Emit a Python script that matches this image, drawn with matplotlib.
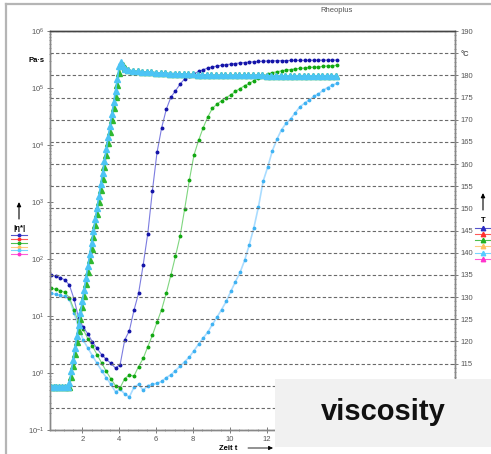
import matplotlib
matplotlib.use("Agg")
import matplotlib.pyplot as plt
from matplotlib.lines import Line2D
from matplotlib.patches import Rectangle, FancyArrowPatch
from matplotlib.ticker import MultipleLocator, LogLocator, NullFormatter

plt.rcParams["font.family"] = ["Liberation Sans", "DejaVu Sans"]

# measurement times for viscosity (min)
t_visc = [0.30, 0.55, 0.80, 1.05, 1.30,
          1.55, 1.80, 2.05, 2.30, 2.55,
          2.80, 3.05, 3.30, 3.55, 3.80,
          4.05, 4.30, 4.55, 4.80, 5.05,
          5.30, 5.55, 5.80, 6.05, 6.30,
          6.55, 6.80, 7.05, 7.30, 7.55,
          7.80, 8.05, 8.30, 8.55, 8.80,
          9.05, 9.30, 9.55, 9.80, 10.05,
          10.30, 10.55, 10.80, 11.05, 11.30,
          11.55, 11.80, 12.05, 12.30, 12.55,
          12.80, 13.05, 13.30, 13.55, 13.80,
          14.05, 14.30, 14.55, 14.80, 15.05,
          15.30, 15.55, 15.80]

# |eta*| in Pa*s
eta_blue = [52, 50, 47, 43, 35,
            20, 9.3, 6.3, 4.9, 3.5,
            2.7, 2.1, 1.74, 1.48, 1.22,
            1.4, 3.8, 5.5, 12.6, 25,
            79, 280, 1580, 7400, 2.0e4,
            4.2e4, 6.9e4, 8.9e4, 1.17e5, 1.45e5,
            1.62e5, 1.78e5, 1.95e5, 2.09e5, 2.24e5,
            2.34e5, 2.43e5, 2.51e5, 2.57e5, 2.63e5,
            2.69e5, 2.75e5, 2.80e5, 2.85e5, 2.88e5,
            2.92e5, 2.95e5, 2.98e5, 3.00e5, 3.01e5,
            3.02e5, 3.03e5, 3.04e5, 3.05e5, 3.06e5,
            3.06e5, 3.07e5, 3.07e5, 3.08e5, 3.08e5,
            3.09e5, 3.09e5, 3.10e5]

eta_green = [31, 29.5, 28, 26, 21,
             13, 7.6, 5.8, 4.0, 2.95,
             2.1, 1.5, 1.07, 0.79, 0.60,
             0.55, 0.80, 0.92, 0.88, 1.3,
             1.8, 2.9, 4.6, 7.8, 13,
             25, 52, 112, 250, 760,
             2400, 6600, 1.2e4, 2.0e4, 3.1e4,
             4.4e4, 5.2e4, 6.0e4, 6.8e4, 7.6e4,
             8.7e4, 9.8e4, 1.10e5, 1.20e5, 1.35e5,
             1.51e5, 1.62e5, 1.76e5, 1.86e5, 1.93e5,
             2.00e5, 2.07e5, 2.11e5, 2.16e5, 2.21e5,
             2.24e5, 2.29e5, 2.32e5, 2.34e5, 2.40e5,
             2.43e5, 2.45e5, 2.51e5]

eta_cyan = [25, 24, 23, 22, 20,
            11.5, 6.3, 3.8, 2.75, 2.0,
            1.48, 1.10, 0.83, 0.63, 0.47,
            0.52, 0.43, 0.38, 0.56, 0.63,
            0.50, 0.60, 0.63, 0.66, 0.71,
            0.83, 0.93, 1.10, 1.32, 1.58,
            1.9, 2.45, 3.2, 4.1, 5.2,
            7.1, 9.5, 13, 18, 27,
            40, 58, 95, 178, 355,
            830, 2300, 4100, 7900, 1.26e4,
            1.86e4, 2.4e4, 2.9e4, 3.7e4, 4.7e4,
            5.4e4, 6.2e4, 7.1e4, 7.9e4, 9.1e4,
            1.02e5, 1.12e5, 1.20e5]

# temperature T in degC
t_temp = [0.30, 0.45, 0.60, 0.75, 0.90, 1.05, 1.20,
          1.30, 1.40, 1.50, 1.60, 1.70, 1.80, 1.90, 2.00, 2.10, 2.20,
          2.30, 2.40, 2.50, 2.60, 2.70, 2.80, 2.90, 3.00, 3.10, 3.20,
          3.30, 3.40, 3.50, 3.60, 3.70, 3.80, 3.90, 4.00, 4.10, 4.20, 4.30,
          4.50, 4.75, 5.00, 5.25, 5.50, 5.75, 6.00, 6.25, 6.50, 6.75,
          7.00, 7.25, 7.50, 7.75, 8.00, 8.25, 8.50, 8.75, 9.00, 9.25,
          9.50, 9.75, 10.00, 10.25, 10.50, 10.75, 11.00, 11.25, 11.50, 11.75,
          12.00, 12.25, 12.50, 12.75, 13.00, 13.25, 13.50, 13.75,
          14.00, 14.25, 14.50, 14.75, 15.00, 15.25, 15.50, 15.75]

temp_start = [109.8, 109.8, 109.8, 109.8, 109.8, 109.8, 109.8]
temp_ramp_cyan = [110.5, 113.2, 115.8, 118.4, 121.1, 123.7, 126.4, 129.0, 131.6, 134.3,
                  136.9, 139.6, 142.2, 144.8, 147.5, 150.1, 152.8, 155.4, 158.0, 160.7,
                  163.3, 166.0, 168.6, 171.2, 173.9, 176.5, 179.2, 182.0, 182.9, 182.0, 181.4]
temp_ramp_green = [109.8, 111.9, 114.5, 117.1, 119.8, 122.4, 125.1, 127.7, 130.3, 133.0,
                   135.6, 138.3, 140.9, 143.5, 146.2, 148.8, 151.5, 154.1, 156.7, 159.4,
                   162.0, 164.7, 167.3, 169.9, 172.6, 175.2, 177.9, 180.6, 182.6, 182.3, 181.6]
temp_hold = [181.2, 181.0, 180.9, 180.8, 180.7, 180.7, 180.6, 180.5, 180.5, 180.4,
             180.4, 180.3, 180.3, 180.2, 180.2, 180.1, 180.1, 180.1, 180.0, 180.0,
             180.0, 180.0, 180.0, 180.0, 180.0, 180.0, 180.0, 180.0, 180.0, 180.0,
             179.9, 179.9, 179.9, 179.9, 179.9, 179.9, 179.9, 179.9,
             179.9, 179.9, 179.9, 179.9, 179.9, 179.9, 179.9, 179.9]
temp_cyan = temp_start + temp_ramp_cyan + temp_hold
temp_green = temp_start + temp_ramp_green + temp_hold

x_ticks = [2, 4, 6, 8, 10, 12, 14, 16, 18, 20, 22]
temp_ticks = [100, 105, 110, 115, 120, 125, 130, 135, 140, 145,
              150, 155, 160, 165, 170, 175, 180, 185, 190]
temp_tick_labels = ["100", "105", "110", "115", "120", "125", "130", "135", "140", "145",
                    "150", "155", "160", "165", "170", "175", "180", "°C", "190"]
legend_colors = ["#2a2ac0", "#ff3030", "#22b022", "#ffc060", "#55ccff", "#ff33cc"]

W, H = 491, 454


def fx(x):
    return x / W


def fy(y):
    return 1 - y / H


def arrow(x0, y0, x1, y1, lw=0.8):
    fig.add_artist(FancyArrowPatch((fx(x0), fy(y0)), (fx(x1), fy(y1)),
                                   transform=fig.transFigure, color="k", lw=lw,
                                   arrowstyle="-|>,head_length=2.5,head_width=1.2",
                                   shrinkA=0, shrinkB=0))


fig = plt.figure(figsize=(W / 100, H / 100), dpi=100)
ax = fig.add_axes([fx(50), fy(430), 405 / W, 399 / H])
ax2 = ax.twinx()

# viscosity curves (left, log)
ax.plot(t_visc, eta_cyan, "-", color="#a9dcff", lw=1.2, marker="o", ms=1.7,
        mfc="#3fb2f2", mec="#3fb2f2")
ax.plot(t_visc, eta_green, "-", color="#7fd67f", lw=0.8, marker="o", ms=1.8,
        mfc="#12a812", mec="#12a812")
ax.plot(t_visc, eta_blue, "-", color="#7c7ce0", lw=0.8, marker="o", ms=1.8,
        mfc="#1414a8", mec="#1414a8")
ax.set_yscale("log")
ax.set_ylim(0.1, 1e6)
ax.set_xlim(0.25, 22.2)

# temperature curves (right, linear)
ax2.plot(t_temp, temp_green, "-", color="#35c035", lw=1, marker="^", ms=3.8,
         mfc="#30b830", mec="#30b830")
ax2.plot(t_temp, temp_cyan, "-", color="#4cc4f5", lw=1.2, marker="^", ms=3.8,
         mfc="#4cc4f5", mec="#4cc4f5")
ax2.set_ylim(100, 190)
ax2.set_yticks(temp_ticks)
ax2.set_yticklabels(temp_tick_labels)
ax2.yaxis.set_minor_locator(MultipleLocator(1))
ax2.set_axisbelow(True)
ax2.yaxis.grid(True, which="major", linestyle=(0, (3, 2)), color="#6a6a6a", lw=0.8)
for lab in ax2.get_yticklabels():
    if lab.get_text() == "°C":
        lab.set_fontweight("bold")
        lab.set_color("#222222")

ax.set_xticks(x_ticks)
ax.xaxis.set_minor_locator(MultipleLocator(0.5))
ax.yaxis.set_major_locator(LogLocator(base=10, numticks=12))
ax.yaxis.set_minor_locator(LogLocator(base=10, subs=range(2, 10), numticks=12))
ax.yaxis.set_minor_formatter(NullFormatter())

for a in (ax, ax2):
    a.tick_params(which="major", direction="inout", length=4, width=0.6, color="#666666",
                  labelsize=5.5, labelcolor="#555555", pad=2)
    a.tick_params(which="minor", direction="inout", length=2, width=0.5, color="#777777")
    for side, sp in a.spines.items():
        sp.set_color("#444444" if side == "top" else "#888888")
        sp.set_linewidth(1.0)

# outer frame
fig.add_artist(Line2D([fx(6), fx(6)], [0, fy(4)], color="#b5b5b5", lw=1.6))
fig.add_artist(Line2D([fx(6), 1], [fy(4), fy(4)], color="#b5b5b5", lw=1.6))

fig.text(fx(337), fy(11), "Rheoplus", fontsize=5.5, color="#555555", ha="center", va="center")
fig.text(fx(45), fy(61), "Pa·s", fontsize=5.5, fontweight="bold", ha="right", va="center")
fig.text(fx(228), fy(448), "Zeit t", fontsize=5.5, fontweight="bold", ha="center", va="center")
arrow(248, 448, 273, 448, lw=0.6)

# |eta*| legend on the left
fig.text(fx(19), fy(228), "|η*|", fontsize=5.5, fontweight="bold", ha="center", va="center")
arrow(19, 219, 19, 202)
for yy, c in zip([235, 239, 243, 247, 250, 254], legend_colors):
    fig.add_artist(Line2D([fx(11), fx(27)], [fy(yy), fy(yy)], color=c, lw=0.8, alpha=0.8))
    fig.add_artist(Line2D([fx(19)], [fy(yy)], color=c, marker="o", ms=1.8, lw=0))

# T legend on the right
fig.text(fx(483), fy(221), "T", fontsize=5.5, fontweight="bold", ha="center", va="center")
arrow(483, 210, 483, 193)
for yy, c in zip([228, 234, 240, 246, 253, 259], legend_colors):
    fig.add_artist(Line2D([fx(475), 1], [fy(yy), fy(yy)], color=c, lw=0.8, alpha=0.8))
    fig.add_artist(Line2D([fx(483)], [fy(yy)], color=c, marker="^", ms=3.2, lw=0))

# caption box
fig.add_artist(Rectangle((fx(275), fy(447)), (W - 275) / W, (447 - 379) / H,
                         transform=fig.transFigure, facecolor="#f1f1f1", edgecolor="none",
                         zorder=5))
fig.text(fx(383), fy(412), "viscosity", fontsize=21, fontweight="bold", color="#111111",
         ha="center", va="center", zorder=6)

fig.savefig("out.png", dpi=100)
